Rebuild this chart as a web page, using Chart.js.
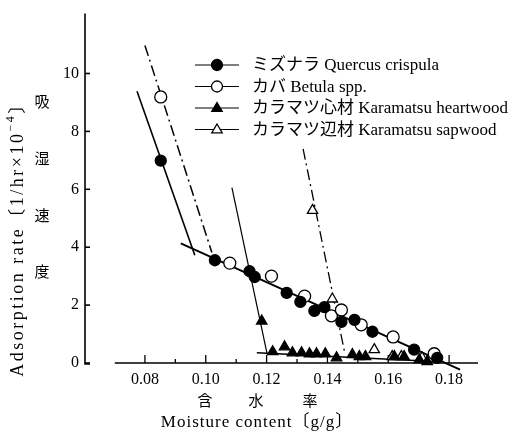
<!DOCTYPE html>
<html>
<head>
<meta charset="utf-8">
<script src="https://cdn.jsdelivr.net/npm/chart.js@4/dist/chart.umd.min.js"></script>
<style>
  html, body { margin: 0; padding: 0; background: #fff; }
  #wrap { width: 516px; height: 432px; }
</style>
</head>
<body>
<div id="wrap"><canvas id="c" width="516" height="432"></canvas></div>
<script>
// ---- data ----
const seriesLabels = ['ミズナラ Quercus crispula', 'カバ Betula spp.', 'カラマツ心材 Karamatsu heartwood', 'カラマツ辺材 Karamatsu sapwood'];

const quercusX = [0.0852, 0.1030, 0.1144, 0.1161, 0.1266, 0.1311, 0.1357, 0.1390, 0.1446, 0.1489, 0.1548, 0.1685, 0.1761];
const quercusY = [6.99, 3.55, 3.17, 2.97, 2.42, 2.11, 1.80, 1.93, 1.42, 1.49, 1.08, 0.46, 0.18];

const betulaX = [0.0852, 0.1079, 0.1216, 0.1325, 0.1413, 0.1446, 0.1511, 0.1616, 0.1751];
const betulaY = [9.19, 3.45, 3.00, 2.31, 1.63, 1.83, 1.32, 0.90, 0.32];

const heartX = [0.1184, 0.1220, 0.1259, 0.1285, 0.1315, 0.1341, 0.1364, 0.1393, 0.1430, 0.1482, 0.1505, 0.1525, 0.1620, 0.1652, 0.1702, 0.1728];
const heartY = [1.45, 0.39, 0.56, 0.35, 0.35, 0.32, 0.32, 0.32, 0.18, 0.29, 0.22, 0.22, 0.22, 0.22, 0.11, 0.05];

const sapX = [0.1351, 0.1416, 0.1554, 0.1613, 0.1643, 0.1711];
const sapY = [5.27, 2.21, 0.46, 0.22, 0.22, 0.18];

// fitted lines (end points, data units)
const quercusSteepX = [0.0774, 0.0964];
const quercusSteepY = [9.39, 3.72];
const betulaSteepX = [0.0800, 0.1020];
const betulaSteepY = [10.97, 3.82];
const sharedLineX = [0.0918, 0.1836];
const sharedLineY = [4.13, -0.23];
const heartSteepX = [0.1086, 0.1201];
const heartSteepY = [6.06, 0.35];
const heartLowX = [0.1168, 0.1770];
const heartLowY = [0.35, 0.04];
const sapSteepX = [0.1320, 0.1458];
const sapSteepY = [7.40, 0.29];

// axes
const xTickValues = [0.08, 0.10, 0.12, 0.14, 0.16, 0.18];
const xMinorTicks = [0.09, 0.11, 0.13, 0.15, 0.17];
const yTickValues = [0, 2, 4, 6, 8, 10];
const xRange = [0.0603, 0.1895];
const xAxisStart = 0.0701;
const yRange = [0, 12];

const yTitleEn = 'Adsorption rate〔1/hr×10';
const yTitleSup = '−4';
const yTitleEnd = '〕';
const yTitleJa = ['吸', '湿', '速', '度'];
const xTitleJa = ['含', '水', '率'];
const xTitleEn = 'Moisture content〔g/g〕';

// ---- build ----
const SERIF = '"Liberation Serif", "Noto Sans CJK JP", serif';
const zip = (xs, ys) => xs.map((x, i) => ({ x: x, y: ys[i] }));

function lineDs(xs, ys, dash, width) {
  return {
    type: 'scatter', data: zip(xs, ys), showLine: true, pointRadius: 0,
    borderColor: '#000', borderWidth: width, borderDash: dash, fill: false,
    order: 5, clip: false
  };
}
function ptDs(label, xs, ys, style, filled, r) {
  return {
    type: 'scatter', label: label, data: zip(xs, ys), showLine: false,
    pointStyle: style, pointRadius: r, pointHoverRadius: r,
    backgroundColor: filled ? '#000' : '#fff', borderColor: '#000', borderWidth: 1.3,
    order: 1, clip: false
  };
}
const DASHDOT = [11, 4, 2, 4];

const datasets = [
  ptDs(seriesLabels[0], quercusX, quercusY, 'circle', true, 5.5),
  ptDs(seriesLabels[1], betulaX, betulaY, 'circle', false, 6),
  ptDs(seriesLabels[2], heartX, heartY, 'triangle', true, 6),
  ptDs(seriesLabels[3], sapX, sapY, 'triangle', false, 6),
  lineDs(quercusSteepX, quercusSteepY, [], 1.6),
  lineDs(betulaSteepX, betulaSteepY, DASHDOT, 1.5),
  lineDs(sharedLineX, sharedLineY, [], 2),
  lineDs(heartSteepX, heartSteepY, [], 1.2),
  lineDs(heartLowX, heartLowY, [], 1.5),
  lineDs(sapSteepX, sapSteepY, DASHDOT, 1.3)
];

const decor = {
  id: 'decor',
  beforeDatasetsDraw(chart) {
    const ctx = chart.ctx, xs = chart.scales.x, ys = chart.scales.y;
    const y0 = ys.getPixelForValue(0);
    const left = chart.chartArea.left, top = chart.chartArea.top;
    ctx.save();
    ctx.strokeStyle = '#000';
    ctx.lineWidth = 1.6;
    // y axis
    ctx.beginPath();
    ctx.moveTo(left, top - 2);
    ctx.lineTo(left, y0 + 1);
    ctx.lineTo(left + 5, y0 + 1);
    ctx.stroke();
    yTickValues.forEach(v => {
      const p = ys.getPixelForValue(v);
      ctx.beginPath(); ctx.moveTo(left, p); ctx.lineTo(left + 5, p); ctx.stroke();
    });
    // x axis
    ctx.beginPath();
    ctx.moveTo(xs.getPixelForValue(xAxisStart), y0);
    ctx.lineTo(chart.chartArea.right, y0);
    ctx.stroke();
    ctx.lineWidth = 1.3;
    xTickValues.forEach(v => {
      const p = xs.getPixelForValue(v);
      ctx.beginPath(); ctx.moveTo(p, y0); ctx.lineTo(p, y0 - 8); ctx.stroke();
    });
    xMinorTicks.forEach(v => {
      const p = xs.getPixelForValue(v);
      ctx.beginPath(); ctx.moveTo(p, y0); ctx.lineTo(p, y0 - 4); ctx.stroke();
    });
    ctx.restore();
  },
  afterDraw(chart) {
    const ctx = chart.ctx;
    ctx.save();
    ctx.fillStyle = '#000';
    // legend
    const rows = [65, 86.5, 108, 129.5];
    const styles = [['circle', true], ['circle', false], ['triangle', true], ['triangle', false]];
    rows.forEach((ry, i) => {
      ctx.strokeStyle = '#000'; ctx.lineWidth = 1.2;
      ctx.beginPath(); ctx.moveTo(195, ry); ctx.lineTo(239, ry); ctx.stroke();
      const ds = chart.data.datasets[i];
      ctx.fillStyle = styles[i][1] ? '#000' : '#fff';
      ctx.lineWidth = 1.3;
      ctx.beginPath();
      if (styles[i][0] === 'circle') { ctx.arc(217, ry, 5.5, 0, Math.PI * 2); }
      else { const r = 5.5; ctx.moveTo(217, ry - r); ctx.lineTo(217 + r * 0.95, ry + r * 0.6); ctx.lineTo(217 - r * 0.95, ry + r * 0.6); ctx.closePath(); }
      ctx.fill(); ctx.stroke();
      ctx.fillStyle = '#000';
      ctx.font = '17px ' + SERIF;
      ctx.textBaseline = 'middle'; ctx.textAlign = 'left';
      ctx.fillText(ds.label, 252, ry + 1);
    });
    // y title (english, rotated)
    ctx.save();
    ctx.translate(18, 235);
    ctx.rotate(-Math.PI / 2);
    ctx.letterSpacing = '2.5px';
    ctx.font = '18px ' + SERIF;
    const w1 = ctx.measureText(yTitleEn).width;
    ctx.font = '12px ' + SERIF;
    const w2 = ctx.measureText(yTitleSup).width;
    ctx.font = '18px ' + SERIF;
    const w3 = ctx.measureText(yTitleEnd).width;
    let sx = -(w1 + w2 + w3) / 2;
    ctx.textBaseline = 'middle'; ctx.textAlign = 'left';
    ctx.fillText(yTitleEn, sx, 0);
    ctx.font = '12px ' + SERIF;
    ctx.fillText(yTitleSup, sx + w1, -7);
    ctx.font = '18px ' + SERIF;
    ctx.fillText(yTitleEnd, sx + w1 + w2, 0);
    ctx.restore();
    // y title (japanese, vertical)
    ctx.font = '15px ' + SERIF;
    ctx.textAlign = 'center'; ctx.textBaseline = 'middle';
    const jy = [103, 160, 217, 273];
    yTitleJa.forEach((ch, i) => ctx.fillText(ch, 42, jy[i]));
    // x titles
    const jx = [205, 256, 310];
    xTitleJa.forEach((ch, i) => ctx.fillText(ch, jx[i], 402));
    ctx.letterSpacing = '1px';
    ctx.font = '17px ' + SERIF;
    ctx.fillText(xTitleEn, 257, 423);
    ctx.restore();
  }
};

new Chart(document.getElementById('c'), {
  type: 'scatter',
  data: { datasets: datasets },
  options: {
    responsive: false,
    animation: false,
    events: [],
    layout: { padding: { left: 0, right: 38, top: 14, bottom: 0 } },
    plugins: { legend: { display: false }, tooltip: { enabled: false } },
    scales: {
      x: {
        type: 'linear', min: xRange[0], max: xRange[1],
        grid: { display: false, drawTicks: false },
        border: { display: false },
        afterBuildTicks: s => { s.ticks = xTickValues.map(v => ({ value: v })); },
        afterFit: s => { s.height = 69; },
        ticks: {
          padding: 7, color: '#000', maxRotation: 0, autoSkip: false,
          font: { family: SERIF, size: 16 },
          callback: v => Number(v).toFixed(2)
        }
      },
      y: {
        type: 'linear', min: yRange[0], max: yRange[1],
        grid: { display: false, drawTicks: false },
        border: { display: false },
        afterBuildTicks: s => { s.ticks = yTickValues.map(v => ({ value: v })); },
        afterFit: s => { s.width = 85; },
        ticks: {
          padding: 6, color: '#000', autoSkip: false,
          font: { family: SERIF, size: 16 },
          callback: v => String(v)
        }
      }
    }
  },
  plugins: [decor]
});
</script>
</body>
</html>
